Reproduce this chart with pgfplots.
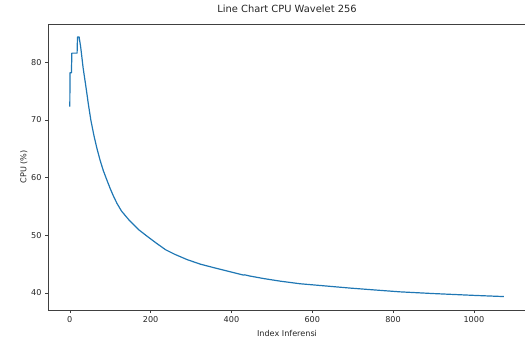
\documentclass[border=0pt]{standalone}
\usepackage{pgfplots}
\pgfplotsset{compat=1.18}
\usepackage{fontspec}
\setmainfont{DejaVu Sans}
\definecolor{mplblue}{HTML}{1F77B4}
\begin{document}
\begin{tikzpicture}[x=1pt,y=1pt]
\useasboundingbox (0,0) rectangle (525,338);
\clip (0,0) rectangle (525,338);
\begin{axis}[
  at={(48pt,28pt)}, anchor=south west,
  scale only axis, width=478pt, height=286pt,
  clip mode=individual,
  xmin=-54, xmax=1129, ymin=37.05, ymax=86.65,
  xtick={0,200,400,600,800,1000},
  ytick={40,50,60,70,80},
  tick align=outside, major tick length=3pt,
  xtick pos=bottom, ytick pos=left,
  axis line style={black!75, line width=0.6pt},
  every tick/.style={black!75, line width=0.6pt},
  tick label style={font=\fontsize{8.1}{9}\selectfont, color=black!85},
  /pgf/number format/assume math mode=true,
  /pgf/number format/1000 sep={},
  title={Line Chart CPU Wavelet 256},
  title style={at={(axis description cs:0.5,1.019)}, anchor=base, inner sep=0pt, font=\fontsize{9.9}{11}\selectfont, color=black!85},
  xlabel={Index Inferensi},
  xlabel style={at={(axis description cs:0.5,-0.0927)}, anchor=base, inner sep=0pt, font=\fontsize{8.1}{9}\selectfont, color=black!85},
]
\addplot[mplblue, line width=1.2pt, line join=round] coordinates {
(0,72.3) (0.5,78.2) (4,78.2) (5,81.6) (18,81.6) (19,84.4) (23,84.4)
(27,82.6) (33,79.0) (40,75.7) (46,72.7) (52,70.0) (60,67.2) (67,65.1)
(75,63.0) (83,61.2) (90,59.9) (100,58.1) (108,56.8) (117,55.5) (128,54.2)
(146,52.7) (170,51.0) (192,49.8) (215,48.6) (237,47.5) (260,46.7)
(290,45.8) (323,45.0) (356,44.4) (390,43.8) (430,43.1)
(433,43.15) (445,42.95) (480,42.5) (521,42.05) (570,41.6) (620,41.3)
(694,40.85) (750,40.55) (817,40.2) (900,39.9) (1002,39.58) (1074,39.38)
};
\node[rotate=90, anchor=base, inner sep=0pt, font=\fontsize{8.1}{9}\selectfont, text=black!85] at (axis description cs:-0.045,0.5) {CPU (\%)};
\end{axis}
\end{tikzpicture}
\end{document}
